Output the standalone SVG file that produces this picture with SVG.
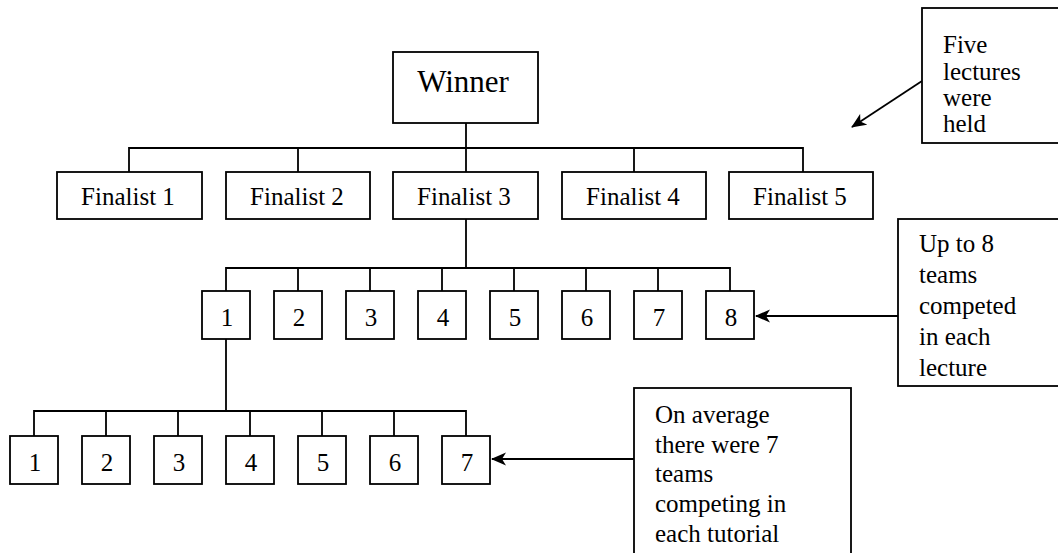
<svg xmlns="http://www.w3.org/2000/svg" width="1058" height="553" viewBox="0 0 1058 553">
<style>
.box{fill:#fff;stroke:#000;stroke-width:1.8}
.t{font-family:'Liberation Serif','Times New Roman','DejaVu Serif',serif;font-size:25px;fill:#000}
.c{text-anchor:middle}
.w{font-size:31px}
.ln{fill:none;stroke:#000;stroke-width:1.8}
.arr{fill:none;stroke:#000;stroke-width:1.8;marker-end:url(#ah)}
</style>
<defs>
<marker id="ah" markerUnits="userSpaceOnUse" viewBox="0 -7 15 14" refX="14" refY="0" markerWidth="15" markerHeight="14" orient="auto">
<path d="M0,-6.5 L15,0 L0,6.5 L4,0 Z" fill="#000"/>
</marker>
</defs>
<rect width="1058" height="553" fill="#fff"/>
<g id="connectors">
<path class="ln" d="M466,123 V148 M129,172 V148 H803 V172 M298,148 V172 M466,148 V172 M634,148 V172"/>
<path class="ln" d="M466,219 V268 M226,291 V268 H730 V291 M298,268 V291 M370,268 V291 M442,268 V291 M514,268 V291 M586,268 V291 M658,268 V291"/>
<path class="ln" d="M226,339 V411 M34,436 V411 H466 V436 M106,411 V436 M178,411 V436 M250,411 V436 M322,411 V436 M394,411 V436"/>
<line class="arr" x1="922" y1="81" x2="852" y2="127"/>
<line class="arr" x1="898" y1="316" x2="756" y2="316"/>
<line class="arr" x1="634" y1="459" x2="492" y2="459"/>
</g>
<g id="winner"><rect class="box" x="393" y="52" width="145" height="71"/><text class="t w c" x="463" y="92" font-family="Liberation Serif, serif">Winner</text></g>
<g id="finalist1"><rect class="box" x="57" y="172" width="145" height="47"/><text class="t c" x="128" y="205">Finalist 1</text></g>
<g id="finalist2"><rect class="box" x="226" y="172" width="144" height="47"/><text class="t c" x="297" y="205">Finalist 2</text></g>
<g id="finalist3"><rect class="box" x="393" y="172" width="145" height="47"/><text class="t c" x="464" y="205">Finalist 3</text></g>
<g id="finalist4"><rect class="box" x="562" y="172" width="144" height="47"/><text class="t c" x="633" y="205">Finalist 4</text></g>
<g id="finalist5"><rect class="box" x="729" y="172" width="144" height="47"/><text class="t c" x="800" y="205">Finalist 5</text></g>
<g id="team1"><rect class="box" x="202" y="291" width="48" height="48"/><text class="t c" x="227" y="326">1</text></g>
<g id="team2"><rect class="box" x="274" y="291" width="48" height="48"/><text class="t c" x="299" y="326">2</text></g>
<g id="team3"><rect class="box" x="346" y="291" width="48" height="48"/><text class="t c" x="371" y="326">3</text></g>
<g id="team4"><rect class="box" x="418" y="291" width="48" height="48"/><text class="t c" x="443" y="326">4</text></g>
<g id="team5"><rect class="box" x="490" y="291" width="48" height="48"/><text class="t c" x="515" y="326">5</text></g>
<g id="team6"><rect class="box" x="562" y="291" width="48" height="48"/><text class="t c" x="587" y="326">6</text></g>
<g id="team7"><rect class="box" x="634" y="291" width="48" height="48"/><text class="t c" x="659" y="326">7</text></g>
<g id="team8"><rect class="box" x="706" y="291" width="48" height="48"/><text class="t c" x="731" y="326">8</text></g>
<g id="sub1"><rect class="box" x="10" y="436" width="48" height="48"/><text class="t c" x="35" y="471">1</text></g>
<g id="sub2"><rect class="box" x="82" y="436" width="48" height="48"/><text class="t c" x="107" y="471">2</text></g>
<g id="sub3"><rect class="box" x="154" y="436" width="48" height="48"/><text class="t c" x="179" y="471">3</text></g>
<g id="sub4"><rect class="box" x="226" y="436" width="48" height="48"/><text class="t c" x="251" y="471">4</text></g>
<g id="sub5"><rect class="box" x="298" y="436" width="48" height="48"/><text class="t c" x="323" y="471">5</text></g>
<g id="sub6"><rect class="box" x="370" y="436" width="48" height="48"/><text class="t c" x="395" y="471">6</text></g>
<g id="sub7"><rect class="box" x="442" y="436" width="48" height="48"/><text class="t c" x="467" y="471">7</text></g>
<g id="note-lectures"><rect class="box" x="922" y="8" width="150" height="135"/>
<text class="t" x="943" y="53">Five</text><text class="t" x="943" y="80">lectures</text><text class="t" x="943" y="106">were</text><text class="t" x="943" y="132">held</text></g>
<g id="note-teams"><rect class="box" x="898" y="219" width="170" height="167"/>
<text class="t" x="919" y="252">Up to 8</text><text class="t" x="919" y="283">teams</text><text class="t" x="919" y="314">competed</text><text class="t" x="919" y="345">in each</text><text class="t" x="919" y="376">lecture</text></g>
<g id="note-tutorial"><rect class="box" x="634" y="388" width="217" height="175"/>
<text class="t" x="655" y="423">On average</text><text class="t" x="655" y="453">there were 7</text><text class="t" x="655" y="482">teams</text><text class="t" x="655" y="512">competing in</text><text class="t" x="655" y="542">each tutorial</text></g>
</svg>
